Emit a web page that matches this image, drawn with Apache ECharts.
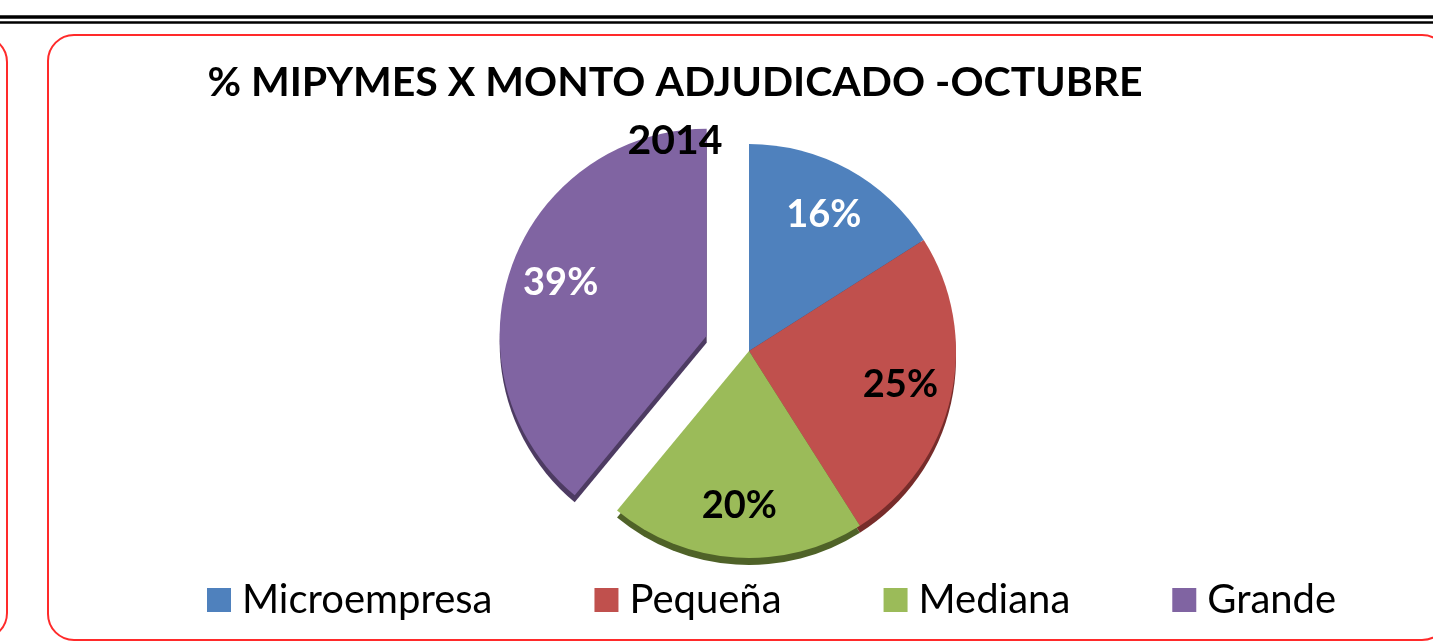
<!DOCTYPE html>
<html>
<head>
<meta charset="utf-8">
<script src="https://cdn.jsdelivr.net/npm/echarts@6.0.0/dist/echarts.min.js"></script>
<style>
  html, body { margin: 0; padding: 0; background: #fff; }
  #chart { width: 1433px; height: 642px; }
</style>
</head>
<body>
<div id="chart"></div>
<script>
// datos del grafico
var categories = ['Microempresa', 'Pequeña', 'Mediana', 'Grande'];
var shares = [16, 25, 20, 39];
var sliceColors = ['#4f81bd', '#c0504d', '#9bbb59', '#8064a2'];
var edgeColors = ['#2c4d75', '#772c2a', '#4f6228', '#4d3b62'];
var labelColors = ['#ffffff', '#000000', '#000000', '#ffffff'];
var exploded = ['Grande'];

var cx = 749, cy = 351, R = 207;

function buildData(colors) {
  var out = [];
  for (var i = 0; i < categories.length; i++) {
    out.push({
      name: categories[i],
      value: shares[i],
      selected: exploded.indexOf(categories[i]) >= 0,
      itemStyle: { color: colors ? colors[i] : 'transparent' },
      label: { color: labelColors[i] }
    });
  }
  return out;
}

var chart = echarts.init(document.getElementById('chart'));
var option = {
  animation: false,
  title: {
    text: '% MIPYMES X MONTO ADJUDICADO -OCTUBRE\n2014',
    left: 670,
    top: 49,
    textAlign: 'center',
    textStyle: {
      fontFamily: 'Lato',
      fontWeight: 'bold',
      fontSize: 41,
      lineHeight: 58,
      color: '#000'
    }
  },
  legend: {
    left: 202,
    top: 575,
    icon: 'rect',
    itemWidth: 24,
    itemHeight: 24,
    itemGap: 102,
    data: categories.map(function (c, i) {
      return { name: c, itemStyle: { color: sliceColors[i] } };
    }),
    textStyle: {
      fontFamily: 'Lato',
      fontSize: 40,
      color: '#000',
      padding: [0, 0, 0, 6]
    },
    selectedMode: false
  },
  graphic: [
    { type: 'line', shape: { x1: 0, y1: 17, x2: 1433, y2: 17 }, style: { stroke: '#000', lineWidth: 3.5 } },
    { type: 'line', shape: { x1: 0, y1: 22.5, x2: 1433, y2: 22.5 }, style: { stroke: '#000', lineWidth: 2.5 } },
    { type: 'rect', shape: { x: 48, y: 35, width: 1400, height: 605, r: 26 }, style: { fill: 'none', stroke: '#ff2a2a', lineWidth: 2 } },
    { type: 'rect', shape: { x: -100, y: 36, width: 107, height: 603, r: 26 }, style: { fill: 'none', stroke: '#ff2a2a', lineWidth: 2 } }
  ],
  series: [
    {
      // cuerpo principal
      type: 'pie',
      name: 'main',
      z: 3,
      center: [cx, cy],
      radius: [0, R],
      startAngle: 90,
      selectedMode: 'single',
      selectedOffset: 45,
      silent: true,
      label: { show: false },
      labelLine: { show: false },
      data: buildData(sliceColors)
    },
    {
      // borde 3D (sombra inferior)
      type: 'pie',
      name: 'base',
      z: 2,
      center: [cx, cy + 7],
      radius: [0, R],
      startAngle: 90,
      selectedMode: 'single',
      selectedOffset: 45,
      silent: true,
      label: { show: false },
      labelLine: { show: false },
      data: buildData(edgeColors)
    },
    {
      // etiquetas
      type: 'pie',
      name: 'labels',
      z: 4,
      center: [cx, cy],
      radius: [R * 0.47, R],
      startAngle: 90,
      selectedMode: 'single',
      selectedOffset: 45,
      silent: true,
      label: {
        show: true,
        position: 'inside',
        formatter: '{c}%',
        fontFamily: 'Lato',
        fontWeight: 'bold',
        fontSize: 38
      },
      labelLine: { show: false },
      data: buildData(null)
    }
  ]
};
chart.setOption(option);
</script>
</body>
</html>
